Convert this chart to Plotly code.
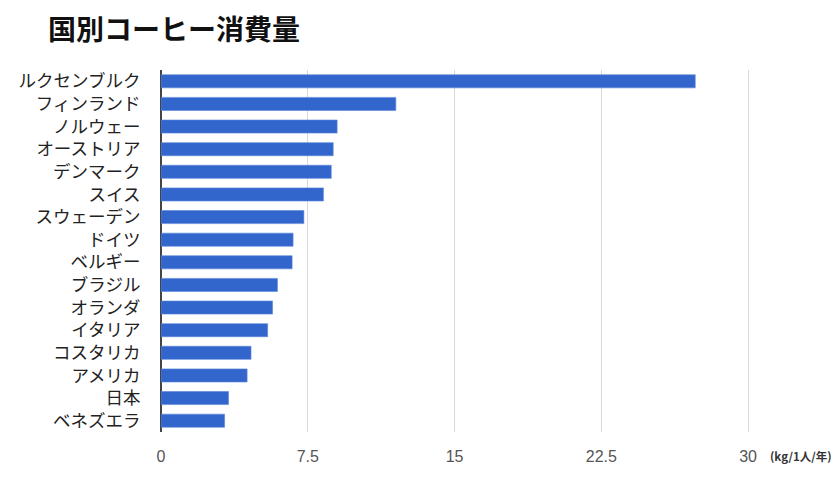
import plotly.graph_objects as go

countries = ["ルクセンブルク", "フィンランド", "ノルウェー", "オーストリア", "デンマーク",
             "スイス", "スウェーデン", "ドイツ", "ベルギー", "ブラジル",
             "オランダ", "イタリア", "コスタリカ", "アメリカ", "日本", "ベネズエラ"]
consumption = [27.3, 12.0, 9.0, 8.8, 8.7, 8.3, 7.3, 6.75, 6.7, 5.95,
               5.7, 5.45, 4.6, 4.4, 3.45, 3.25]
tick_vals = [0, 7.5, 15, 22.5, 30]
tick_text = ["0", "7.5", "15", "22.5", "30"]

jp_font = "Noto Sans CJK JP"

# page body has an 8px margin, so the figure is drawn a little smaller
W, H = 832, 473

fig = go.Figure()
fig.add_trace(go.Bar(
    x=consumption,
    y=countries,
    orientation="h",
    marker=dict(color="#3366CC", line=dict(color="#5a86d8", width=0.6)),
    width=0.58,
))

fig.update_layout(
    width=W,
    height=H,
    margin=dict(l=153, r=88, t=62, b=49),
    plot_bgcolor="white",
    paper_bgcolor="white",
    showlegend=False,
    font=dict(family=jp_font, color="#222222"),
    title=dict(
        text="<b>国別コーヒー消費量</b>",
        x=40 / W, xanchor="left",
        y=1 - 22 / H, yanchor="middle",
        font=dict(size=28, color="#111111", family=jp_font),
    ),
    xaxis=dict(
        range=[0, 30.2],
        tickvals=tick_vals,
        ticktext=tick_text,
        showgrid=True,
        gridcolor="#d9d9d9",
        gridwidth=1,
        zeroline=True,
        zerolinecolor="#444444",
        zerolinewidth=1.5,
        ticks="outside",
        ticklen=10,
        tickcolor="rgba(0,0,0,0)",
        tickfont=dict(size=16, color="#555555", family="Liberation Sans"),
        automargin=False,
    ),
    yaxis=dict(
        categoryorder="array",
        categoryarray=countries[::-1],
        autorange=True,
        showgrid=False,
        ticks="outside",
        ticklen=16,
        tickcolor="rgba(0,0,0,0)",
        tickfont=dict(size=17.5, color="#222222", family=jp_font),
        automargin=False,
    ),
    annotations=[dict(
        text="<b>(kg/1人/年)</b>",
        x=30, y=0, xref="x", yref="paper",
        xanchor="left", yanchor="top",
        xshift=20, yshift=-14,
        showarrow=False,
        font=dict(size=11.5, color="#333333", family=jp_font),
    )],
)

fig.write_html("out.html")
